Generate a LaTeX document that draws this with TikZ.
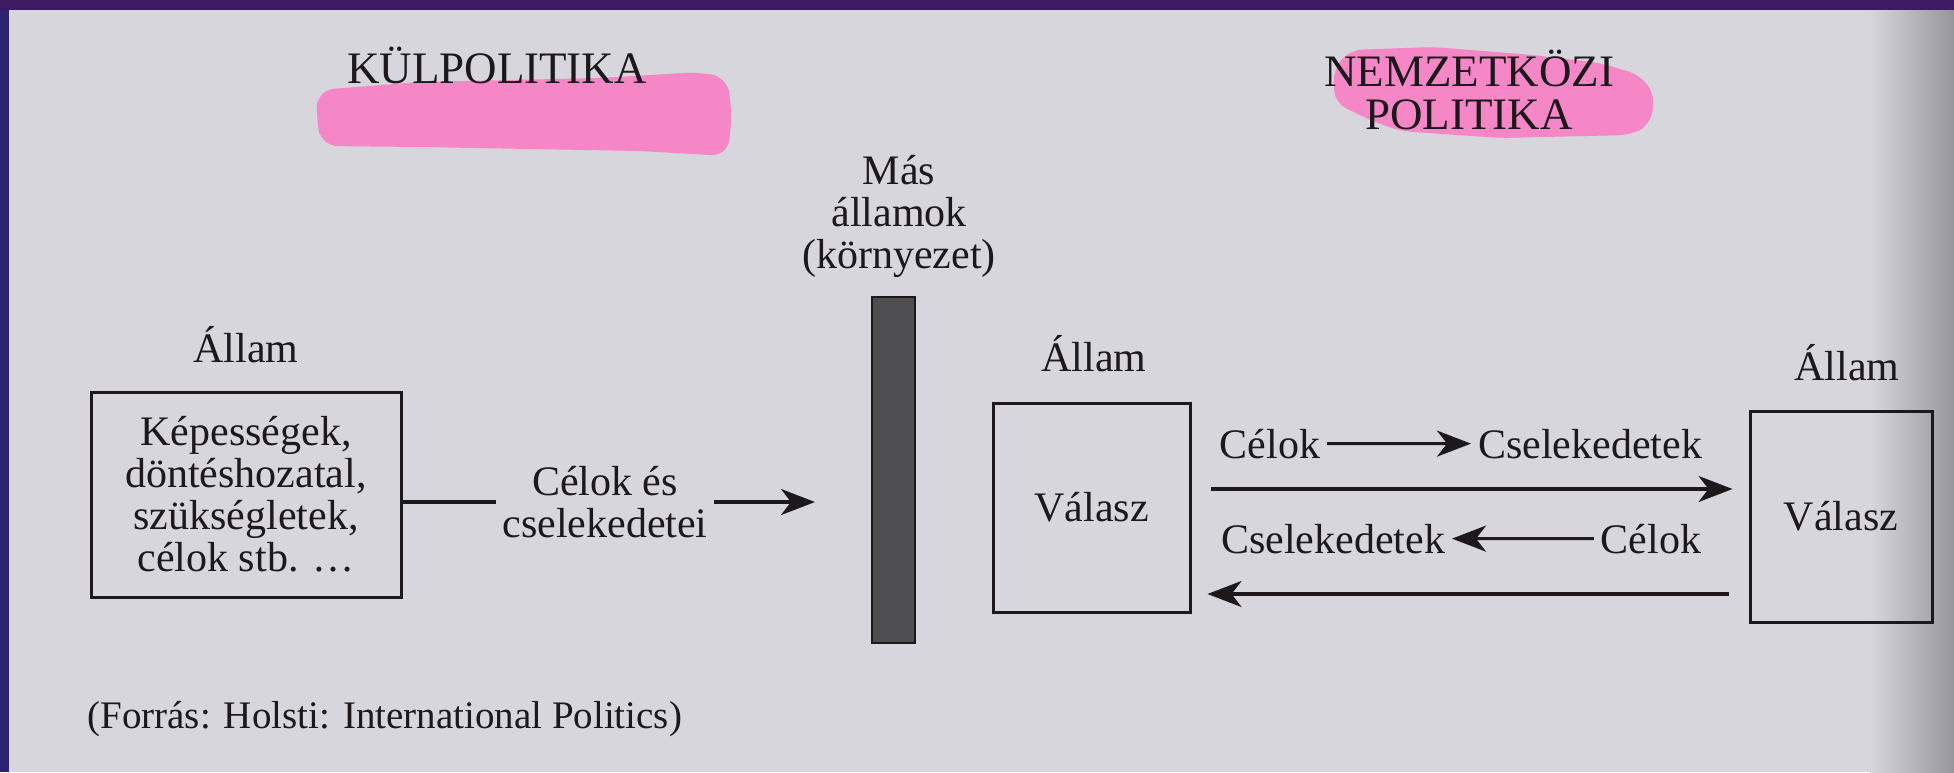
\documentclass[tikz,border=0pt]{standalone}
\usepackage{fontspec}
\setmainfont{Liberation Serif}
\usetikzlibrary{arrows.meta,positioning}
\definecolor{page}{RGB}{214,214,220}
\definecolor{pageedge}{RGB}{150,150,156}
\definecolor{slide}{RGB}{62,26,98}
\definecolor{slideside}{RGB}{44,36,112}
\definecolor{marker}{RGB}{245,135,198}
\definecolor{ink}{RGB}{28,24,28}
\definecolor{wallgray}{RGB}{78,78,80}

\begin{document}
\begin{tikzpicture}[
  x=0.5pt,y=-0.5pt,
  font=\fontsize{21}{21}\selectfont,
  text=ink,
  title/.style={font=\fontsize{22.5}{21.5}\selectfont,align=center},
  lbl/.style={anchor=base},
  box/.style={draw=ink,line width=1.5pt,align=center,inner sep=0pt},
  wallbox/.style={draw=ink,fill=wallgray,line width=1.2pt,inner sep=0pt,
                  minimum width=21.5pt,minimum height=173pt},
  flow/.style={draw=ink,line width=1.6pt,-{Stealth[length=17pt,width=13pt,inset=5pt]}},
  plain/.style={draw=ink,line width=1.6pt}]

% the photographed page
\fill[page] (0,0) rectangle (1954,772);
\shade[left color=page,right color=pageedge] (1870,0) rectangle (1954,772);
\fill[slide] (0,0) rectangle (1954,10);
\fill[slideside] (0,10) rectangle (9,772);
\useasboundingbox (0,0) rectangle (1954,772);

% highlighter strokes under the two titles
\fill[marker,rounded corners=8pt] (318,90) -- (420,82) -- (600,78) -- (700,72) -- (728,78)
  -- (732,120) -- (727,156) -- (640,151) -- (420,147) -- (322,146) -- (316,118) -- cycle;
\fill[marker,rounded corners=6pt] (1333,70) -- (1350,50) -- (1433,47) -- (1533,55) -- (1600,63)
  -- (1640,75) -- (1655,95) -- (1650,125) -- (1630,135) -- (1500,138) -- (1400,131)
  -- (1370,120) -- (1335,103) -- cycle;

\node[title,anchor=base] (kul) at (497,83) {KÜLPOLITIKA};
\node[title] (nemz) at (1469,90) {NEMZETKÖZI\\POLITIKA};

\node[box,minimum width=155pt,minimum height=102.5pt] (st1) at (246,494.5)
  {Képességek,\\döntéshozatal,\\szükségletek,\\célok stb. …};
\node[lbl] (all1) at (246,362) {Állam};

\node[align=center] (env) at (899,216) {Más\\államok\\(környezet)};
\node[wallbox] (wall) at (893.5,470) {};

\node[align=center,inner xsep=3pt] (act) at (605,502) {Célok és\\cselekedetei};
\coordinate (toenv) at (815,502);

\node[box,minimum width=98.5pt,minimum height=104.5pt] (st2) at (1091.5,507.5) {Válasz};
\node[lbl] (all2) at (1094,371) {Állam};
\node[box,minimum width=91pt,minimum height=105.5pt] (st3) at (1841,516.5) {Válasz};
\node[lbl] (all3) at (1847,380) {Állam};

\node[lbl] (goal1) at (1270,458) {Célok};
\node[lbl] (deed1) at (1590,458) {Cselekedetek};
\node[lbl] (deed2) at (1333,553) {Cselekedetek};
\node[lbl] (goal2) at (1651,553) {Célok};

\node[anchor=base west,font=\fontsize{19.5}{20}\selectfont,inner sep=0pt] (src) at (87,728)
  {(Forrás: Holsti: International Politics)};

\draw[plain] (st1.east |- act.west) -- (act.west);
\draw[flow] (act.east) -- (toenv);
\draw[flow] (goal1) -- (deed1);
\draw[flow] (goal2) -- (deed2);
\draw[flow,shorten <=9.5pt,shorten >=8pt] ([yshift=9.25pt]st2.east) -- ([yshift=9.25pt]st2.east -| st3.west);
\draw[flow,shorten <=10pt,shorten >=8pt] ([yshift=-38.75pt]st3.west) -- ([yshift=-38.75pt]st3.west -| st2.east);
\end{tikzpicture}
\end{document}
